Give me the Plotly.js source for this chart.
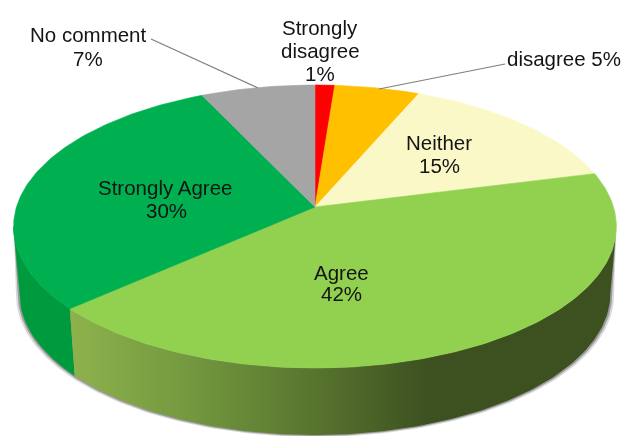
<!DOCTYPE html>
<html>
<head>
<meta charset="utf-8">
<script src="https://cdn.plot.ly/plotly-3.0.1.min.js"></script>
<style>html,body{margin:0;padding:0;background:#fff}#c{width:624px;height:436px;filter:blur(0.4px)}</style>
</head>
<body>
<div id="c"></div>
<script>
// Data, clockwise from 12 o'clock (slice sizes; labels show them rounded)
var categories = ["Strongly disagree", "disagree", "Neither", "Agree", "Strongly Agree", "No comment"];
var percents = [1.2, 5.2, 14.6, 42.4, 29.6, 7.0];
var sliceColors = ["#ff0000", "#ffc000", "#fbf8c8", "#92d050", "#00b050", "#a5a5a5"];

// Projection of the tilted disc on the page
var apexX = 315, apexY = 207, persp = 0.1378, fx = 298.5, fy = 138.8;
var depth = 67, baseScale = 0.98;
// angles at which the projected rim is widest: the side walls end there
var silhouette = Math.acos(-persp) * 180 / Math.PI;
var rightEdge = silhouette, leftEdge = 360 - silhouette;

function rim(deg) {
  var a = deg * Math.PI / 180, u = Math.sin(a), v = Math.cos(a), d = 1 + persp * v;
  return [apexX + fx * u / d, apexY - fy * v / d];
}
function arc(a0, a1, scale, dy) {
  var pts = [], n = Math.max(2, Math.ceil(Math.abs(a1 - a0)));
  for (var i = 0; i <= n; i++) {
    var p = rim(a0 + (a1 - a0) * i / n);
    pts.push([apexX + (p[0] - apexX) * scale, p[1] + dy]);
  }
  return pts;
}
function poly(pts, color, extra) {
  var t = {
    type: "scatter", mode: "lines", x: pts.map(function (p) { return p[0]; }),
    y: pts.map(function (p) { return p[1]; }), fill: "toself", fillcolor: color,
    line: { color: color, width: 0.6 }, hoverinfo: "skip", showlegend: false
  };
  for (var k in extra) t[k] = extra[k];
  return t;
}

var bounds = [0];
percents.forEach(function (p, i) { bounds.push(bounds[i] + p * 3.6); });

var traces = [];
var noLine = { color: "rgba(0,0,0,0)", width: 0 };
// soft shadow under the body
traces.push(poly(arc(rightEdge, leftEdge, 1, 0).concat(arc(leftEdge, rightEdge, 0.992, depth + 2)), "rgba(170,170,170,0.45)", { line: noLine }));
traces.push(poly(arc(rightEdge, leftEdge, 1, 0).concat(arc(leftEdge, rightEdge, 0.986, depth + 1)), "rgba(130,130,130,0.7)", { line: noLine }));

// side walls of the two front slices, limited to the visible part of the rim
function wall(a0, a1) {
  return arc(a0, a1, 1, 0).concat(arc(a1, a0, baseScale, depth));
}
traces.push(poly(wall(bounds[4], leftEdge), "#009a3e"));
var agreeWall = poly(wall(rightEdge, bounds[4]), "#3c5020");
agreeWall.line = noLine;
agreeWall.fillgradient = {
  type: "horizontal",
  colorscale: [[0, "#8db24c"], [0.22, "#73983f"], [0.445, "#58752e"], [0.66, "#3c5020"], [1, "#3c5020"]]
};
traces.push(agreeWall);

// top faces, drawn from the percentages
percents.forEach(function (p, i) {
  var pts = [[apexX, apexY]].concat(arc(bounds[i], bounds[i + 1], 1, 0));
  pts.push([apexX, apexY]);
  var t = poly(pts, sliceColors[i]);
  t.name = categories[i];
  t.hoverinfo = "name";
  traces.push(t);
});

// leader lines
var leaderColor = "#7f7f7f";
var shapes = [
  { type: "line", x0: 151, y0: 39, x1: 258, y1: 88, line: { color: leaderColor, width: 1.2 } },
  { type: "line", x0: 505, y0: 64, x1: 379, y1: 89, line: { color: leaderColor, width: 1.2 } }
];

// label lines
var labelLines = [
  ["Strongly", 320, 27], ["disagree", 320, 50], ["1%", 320, 73],
  ["disagree 5%", 564, 58],
  ["Neither", 439, 142], ["15%", 439, 165],
  ["Agree", 341, 272], ["42%", 341, 293],
  ["Strongly Agree", 165, 187], ["30%", 166, 210],
  ["No comment", 88, 34], ["7%", 88, 58]
];
var annotations = labelLines.map(function (l) {
  return {
    text: l[0], x: l[1], y: l[2], xref: "x", yref: "y", showarrow: false,
    xanchor: "center", yanchor: "middle",
    font: { family: "Liberation Sans, Arial, sans-serif", size: 20.5, color: "#141414" }
  };
});

Plotly.newPlot("c", traces, {
  width: 624, height: 436,
  margin: { l: 0, r: 0, t: 0, b: 0 },
  paper_bgcolor: "#ffffff", plot_bgcolor: "#ffffff",
  showlegend: false,
  xaxis: { range: [0, 624], visible: false, fixedrange: true },
  yaxis: { range: [436, 0], visible: false, fixedrange: true },
  shapes: shapes,
  annotations: annotations
}, { displayModeBar: false });
</script>
</body>
</html>
